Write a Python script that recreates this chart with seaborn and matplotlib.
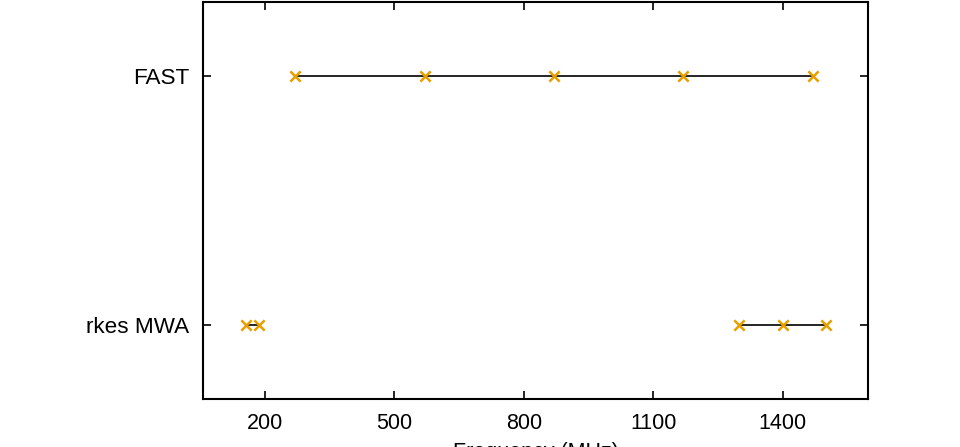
import matplotlib
matplotlib.use("Agg")
import matplotlib.pyplot as plt
import pandas as pd
import seaborn as sns

# telescopes on the y axis, top to bottom
telescopes = ["FAST", "rkes MWA"]

# frequency points (MHz) per telescope, grouped into joined segments
fast_freqs = [270, 570, 870, 1170, 1470]
mwa_low_freqs = [155, 185]
mwa_high_freqs = [1300, 1400, 1500]

x_ticks = [200, 500, 800, 1100, 1400]

rows = []
for f in fast_freqs:
    rows.append({"telescope": "FAST", "segment": "fast", "freq": f})
for f in mwa_low_freqs:
    rows.append({"telescope": "rkes MWA", "segment": "mwa_low", "freq": f})
for f in mwa_high_freqs:
    rows.append({"telescope": "rkes MWA", "segment": "mwa_high", "freq": f})
df = pd.DataFrame(rows)
df["pos"] = df["telescope"].map({t: i for i, t in enumerate(telescopes)})

sns.set_theme(style="ticks")
plt.rcParams["font.family"] = ["Liberation Sans", "DejaVu Sans"]
plt.rcParams["text.color"] = "black"
plt.rcParams["xtick.color"] = "black"
plt.rcParams["ytick.color"] = "black"
plt.rcParams["axes.labelcolor"] = "black"

fig = plt.figure(figsize=(9.6, 4.47), dpi=100)
ax = fig.add_axes([203 / 960, 1 - 399 / 447, (868 - 203) / 960, (399 - 2) / 447])

sns.lineplot(data=df, x="freq", y="pos", units="segment", estimator=None,
             sort=False, color="black", linewidth=1.2, ax=ax)
sns.scatterplot(data=df, x="freq", y="pos", marker="x", color="#E69F00",
                s=55, linewidth=1.8, zorder=3, ax=ax)

ax.set_xlim(56, 1598)
ax.set_ylim(1.3, -0.3)
ax.set_xticks(x_ticks)
ax.set_yticks(range(len(telescopes)))
ax.set_yticklabels(telescopes)
# the label sits mostly below the figure edge, as in the source image
ax.set_xlabel("Frequency (MHz)", fontsize=15.5, labelpad=6)
ax.set_ylabel("")
ax.tick_params(direction="in", length=6, width=1.2, top=True, right=True,
               labelsize=15.5, pad=10)
ax.tick_params(axis="y", labelsize=16.2, pad=10)
for s in ax.spines.values():
    s.set_linewidth(1.5)
    s.set_color("black")

fig.savefig("out.png", dpi=100)
